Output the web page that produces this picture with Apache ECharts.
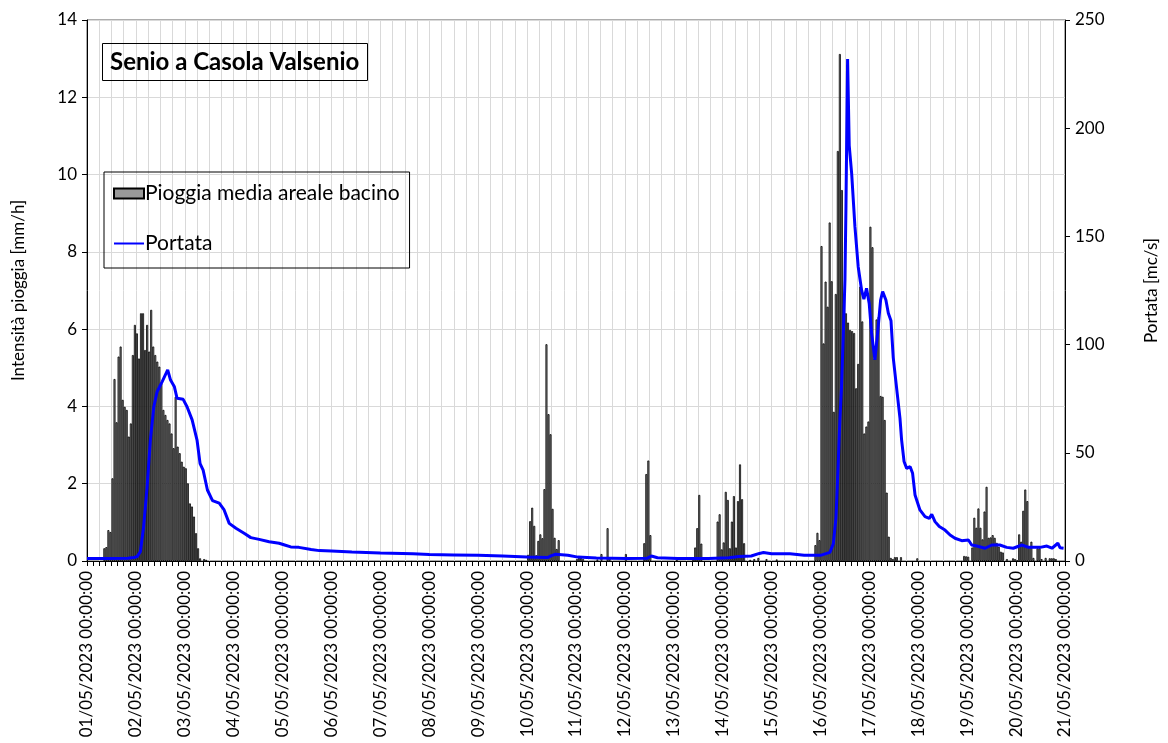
<!DOCTYPE html>
<html><head><meta charset="utf-8">
<script src="https://cdn.jsdelivr.net/npm/echarts@6/dist/echarts.min.js"></script>
<style>html,body{margin:0;padding:0;background:#fff}#c{width:1168px;height:743px}</style>
</head><body><div id="c"></div>
<script>
// tick labels (one per day, hour 0,24,48,...)
const dayLabels = ['01/05/2023 00:00:00','02/05/2023 00:00:00','03/05/2023 00:00:00','04/05/2023 00:00:00','05/05/2023 00:00:00','06/05/2023 00:00:00','07/05/2023 00:00:00','08/05/2023 00:00:00','09/05/2023 00:00:00','10/05/2023 00:00:00','11/05/2023 00:00:00','12/05/2023 00:00:00','13/05/2023 00:00:00','14/05/2023 00:00:00','15/05/2023 00:00:00','16/05/2023 00:00:00','17/05/2023 00:00:00','18/05/2023 00:00:00','19/05/2023 00:00:00','20/05/2023 00:00:00','21/05/2023 00:00:00'];

// hourly rainfall [mm/h], one row per day (24 values)
const rain = [
0,0,0,0,0,0,0,0,0.33,0.36,0.80,0.75,2.14,4.71,3.59,5.29,5.55,4.17,3.99,3.91,3.22,3.56,5.33,6.11,
5.89,5.24,6.41,6.41,5.46,6.11,5.42,6.50,5.55,5.33,5.16,5.03,4.60,3.91,3.78,3.65,3.56,3.30,2.92,4.25,2.96,2.79,2.57,2.44,
2.40,2.01,1.49,1.41,1.15,0.72,0.33,0.07,0,0.05,0.03,0,0,0,0,0,0,0,0,0,0,0,0,0,
0,0,0,0,0,0,0,0,0,0,0,0,0,0,0,0,0,0,0,0,0,0,0,0,
0,0,0,0,0,0,0,0,0,0,0,0,0,0,0,0,0,0,0,0,0,0,0,0,
0,0,0,0,0,0,0,0,0,0,0,0,0,0,0,0,0,0,0,0,0,0,0,0,
0,0,0,0,0,0,0,0,0,0,0,0,0,0,0,0,0,0,0,0,0,0,0,0,
0,0,0,0,0,0,0,0,0,0,0,0,0,0,0,0,0,0,0,0,0,0,0,0,
0,0,0,0,0,0,0,0,0,0,0,0,0,0,0,0,0,0,0,0,0,0,0,0,
0.16,1.03,1.38,0.91,0.15,0.52,0.69,0.59,1.86,5.61,3.80,3.28,1.35,0.60,0.31,0.54,0,0,0,0,0,0,0,0,
0.05,0.10,0.08,0.05,0,0,0,0,0,0,0.04,0,0.18,0,0,0.85,0.10,0,0,0,0,0,0,0,
0.18,0,0,0,0,0,0,0,0,0.46,2.25,2.60,0.67,0,0,0,0,0,0,0,0,0,0,0,
0,0.03,0,0,0,0,0,0,0,0.10,0.35,0.85,1.71,0.45,0,0,0,0,0,0,0,1.02,1.21,0.30,
0.48,1.79,1.58,0.33,1.02,1.68,0.35,1.55,2.50,1.60,0.46,0,0,0.03,0,0.05,0,0.08,0,0,0,0.05,0,0,
0,0,0.04,0,0,0,0,0,0,0,0,0,0,0,0,0,0,0,0,0,0,0.41,0.73,0.54,
8.15,5.63,7.23,6.58,8.76,7.24,3.86,6.91,10.61,13.12,9.60,6.63,6.41,6.17,5.98,5.95,5.90,4.47,5.10,7.10,6.20,3.30,3.48,3.61,
8.65,8.12,5.24,6.25,6.32,4.27,4.25,3.65,1.77,0.63,0.08,0.05,0.10,0.10,0,0.10,0,0,0,0,0,0,0,0.07,
0,0,0,0,0,0,0,0,0,0,0,0,0,0,0,0,0,0,0,0,0,0,0.13,0.12,
0.11,0,0.35,1.12,0.86,1.36,0.86,0.56,1.28,1.92,0.60,0.61,0.67,0.60,0.47,0.37,0.24,0.22,0,0.05,0,0,0.07,0.05,
0.02,0.69,0.50,1.30,1.85,1.55,0.37,0.50,0.08,0,0.33,0.33,0.05,0,0.08,0,0.07,0.07,0.07,0.05,0,0,0,0
];

// discharge [mc/s]: time in hours from 01/05 00:00 and value
const flowHours = [0,10,20,23,24.6,26.2,27.8,29.5,31.1,32.8,34.4,36.9,39.6,41,42.9,44.2,47.2,49.1,51.6,54,55.5,57,59.1,61.6,64.9,67.3,69.8,73.1,77.1,80.4,84.5,89.4,94.3,97,100,104,110,114,120,130,144,160,168,180,192,204,216,226,228,230,236,241,250,265,275,277,280,290,305,315,320,326,330,332,336,345,352,360,364.6,366.3,367.6,368.7,369.5,370.3,371.2,372,372.5,373.3,374.1,375.3,376.9,378.5,380.2,381.3,382.6,383.9,385.1,386.7,388,389.5,390.5,392.1,393.3,394.6,395.7,397.7,399,399.8,401,402.3,404,405.2,406.4,408.8,411.3,413.4,414.6,416.2,418.3,421.1,423.6,426,429.3,432.6,434.2,436.7,440.8,444.1,448,451.4,454.6,458.8,462.1,467.8,471.1,473.6,476.5,477.6,479.3];
const flowValues = [1.2,1.2,1.3,1.6,2,4.3,15.9,34.3,55.9,71.3,78.2,82.9,88.3,83.6,80.5,75.2,74.7,71.3,65.2,55.9,45,42,32.8,27.9,26.7,23.6,17.4,15.1,12.8,10.8,10,8.9,8.2,7.4,6.5,6.3,5.3,4.8,4.6,4.2,3.7,3.4,3.0,2.8,2.6,2.3,1.8,1.6,2.5,3.1,2.7,1.8,1.4,1.2,1.3,2.3,1.5,1.2,1.2,1.5,2.1,2.3,3.5,3.9,3.4,3.3,2.7,2.6,4,8,20,45,65,80,105,130,164,232,192,179,154.5,136,125,121,126,119,105,93,105,120.6,124.5,120.6,114.5,111,94,77,66,56,46,42.8,43.6,40.5,30.5,23.6,20.5,19.7,21.6,18.2,15.9,14.3,12,10.5,9.4,9.7,7.4,6.9,5.9,7.4,7.4,6.3,5.9,7.4,6.3,6.3,6.9,5.9,8.2,6.1,5.9];

const FONT = 'Lato';
const rainData = [];
rain.forEach((v, i) => { if (v > 0) rainData.push([i + 0.5, v]); });
const flowData = flowHours.map((h, i) => [h, flowValues[i]]);

const chart = echarts.init(document.getElementById('c'), null, {renderer: 'canvas'});
chart.setOption({
  animation: false,
  backgroundColor: '#fff',
  textStyle: {fontFamily: FONT, color: '#000'},
  title: {
    text: 'Senio a Casola Valsenio', left: 102, top: 43,
    padding: [7, 8, 7, 8], borderColor: '#000', borderWidth: 1,
    textStyle: {fontFamily: FONT, fontWeight: 'bold', fontSize: 24, color: '#000'}
  },
  legend: {
    orient: 'vertical', left: 104, top: 172,
    borderColor: '#000', borderWidth: 1, padding: [11, 10, 14, 9],
    itemGap: 29, itemWidth: 30, itemHeight: 10,
    textStyle: {fontFamily: FONT, fontSize: 21, color: '#000', padding: [0, 0, 0, -4]},
    data: [{name: 'Pioggia media areale bacino', icon: 'rect'},
           {name: 'Portata', itemStyle: {opacity: 0}}]
  },
  grid: {left: 87, right: 103, top: 20, bottom: 182, show: true, borderColor: '#595959', borderWidth: 1},
  xAxis: {
    type: 'value', min: 0, max: 480, interval: 6,
    axisLine: {show: true, lineStyle: {color: '#000', width: 1}},
    axisTick: {show: true, length: 5, lineStyle: {color: '#000'}},
    minorTick: {show: true, splitNumber: 2, length: 5, lineStyle: {color: '#000'}},
    splitLine: {show: true, lineStyle: {color: '#d9d9d9', width: 1}},
    axisLabel: {
      rotate: 90, fontSize: 17, color: '#000', fontFamily: FONT, margin: 10, hideOverlap: false,
      formatter: v => (v % 24 === 0 ? dayLabels[v / 24] : '')
    }
  },
  yAxis: [{
    type: 'value', min: 0, max: 14, interval: 2,
    name: 'Intensità pioggia [mm/h]', nameLocation: 'middle', nameGap: 60,
    nameTextStyle: {fontFamily: FONT, fontSize: 17, color: '#000'},
    axisLine: {show: true, lineStyle: {color: '#000'}},
    axisTick: {show: true, length: 5, lineStyle: {color: '#000'}},
    axisLabel: {fontSize: 17, color: '#000', fontFamily: FONT, margin: 10},
    splitLine: {show: true, lineStyle: {color: '#d9d9d9', width: 1}}
  }, {
    type: 'value', min: 0, max: 250, interval: 50, position: 'right',
    name: 'Portata [mc/s]', nameLocation: 'middle', nameGap: 78,
    nameTextStyle: {fontFamily: FONT, fontSize: 17, color: '#000'},
    axisLine: {show: true, lineStyle: {color: '#000'}},
    axisTick: {show: true, length: 5, lineStyle: {color: '#000'}},
    axisLabel: {fontSize: 17, color: '#000', fontFamily: FONT, margin: 10},
    splitLine: {show: false}
  }],
  series: [{
    name: 'Pioggia media areale bacino', type: 'bar', yAxisIndex: 0,
    barWidth: 2, data: rainData,
    itemStyle: {color: '#999999', borderColor: '#000', borderWidth: 0.8}
  }, {
    name: 'Portata', type: 'line', yAxisIndex: 1, symbol: 'none', z: 5,
    lineStyle: {color: '#0000ff', width: 3}, itemStyle: {color: '#0000ff'},
    data: flowData
  }]
});
</script>
</body></html>
